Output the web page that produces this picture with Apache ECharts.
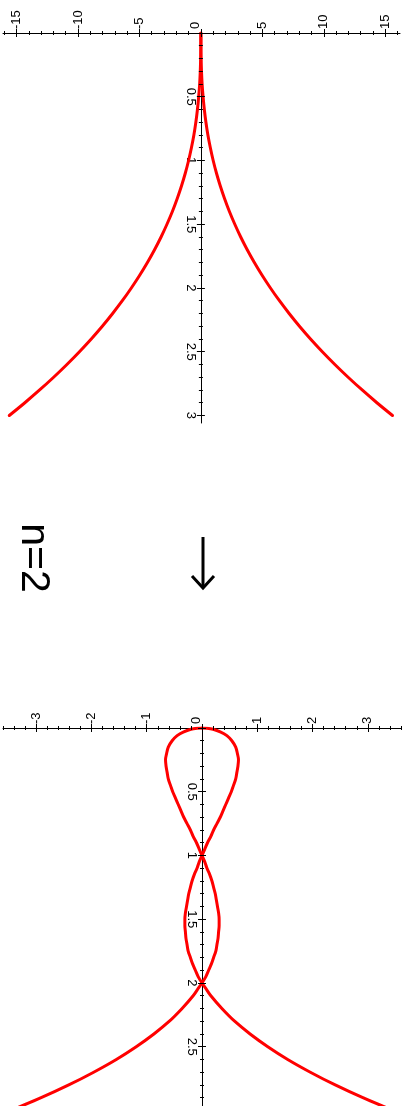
<!DOCTYPE html>
<html>
<head>
<meta charset="utf-8">
<script src="https://cdn.jsdelivr.net/npm/echarts@6/dist/echarts.min.js"></script>
<style>
  html, body { margin: 0; padding: 0; background: #fff; }
  #chart { width: 408px; height: 1106px; }
</style>
</head>
<body>
<div id="chart"></div>
<script>
// ---- Upper plot: cusp curve, parameter t (downwards) against x (across) ----
const cuspT = [0, 0.1, 0.2, 0.3, 0.4, 0.5, 0.6, 0.7, 0.8, 0.9, 1.0,
               1.1, 1.2, 1.3, 1.4, 1.5, 1.6, 1.7, 1.8, 1.9, 2.0,
               2.1, 2.2, 2.3, 2.4, 2.5, 2.6, 2.7, 2.8, 2.9, 3.0];
const cuspRightX = [0, 0, 0.02, 0.05, 0.1, 0.18, 0.28, 0.41, 0.57, 0.77, 1,
                    1.27, 1.58, 1.93, 2.32, 2.76, 3.24, 3.77, 4.35, 4.98, 5.66,
                    6.39, 7.18, 8.02, 8.92, 9.88, 10.9, 11.98, 13.12, 14.32, 15.59];
const cuspLeftX = [0, 0, -0.02, -0.05, -0.1, -0.18, -0.28, -0.41, -0.57, -0.77, -1,
                   -1.27, -1.58, -1.93, -2.32, -2.76, -3.24, -3.77, -4.35, -4.98, -5.66,
                   -6.39, -7.18, -8.02, -8.92, -9.88, -10.9, -11.98, -13.12, -14.32, -15.59];

// ---- Lower plot: looped curve crossing itself at t = 1 and t = 2 ----
const loopT = [0, 0.002, 0.01, 0.03, 0.06,
               0.1, 0.15, 0.2, 0.25, 0.3, 0.35, 0.4, 0.45, 0.5, 0.55,
               0.6, 0.65, 0.7, 0.75, 0.8, 0.85, 0.9, 0.95, 1.0,
               1.05, 1.1, 1.15, 1.2, 1.25, 1.3, 1.35, 1.4, 1.45, 1.5,
               1.55, 1.6, 1.65, 1.7, 1.75, 1.8, 1.85, 1.9, 1.95, 2.0,
               2.05, 2.1, 2.2, 2.3, 2.4, 2.5, 2.6, 2.7, 2.8, 2.9, 3.0];
const loopRightX = [0, 0.09, 0.2, 0.33, 0.45,
                    0.54, 0.61, 0.64, 0.66, 0.65, 0.63, 0.61, 0.57, 0.53, 0.48,
                    0.43, 0.38, 0.33, 0.27, 0.21, 0.16, 0.1, 0.05, 0,
                    -0.05, -0.09, -0.14, -0.18, -0.21, -0.24, -0.26, -0.28, -0.3, -0.31,
                    -0.31, -0.3, -0.29, -0.27, -0.25, -0.21, -0.17, -0.12, -0.07, 0,
                    0.08, 0.16, 0.36, 0.59, 0.87, 1.19, 1.55, 1.96, 2.41, 2.91, 3.46];
const loopLeftX = [0, -0.09, -0.2, -0.33, -0.45,
                   -0.54, -0.61, -0.64, -0.66, -0.65, -0.63, -0.61, -0.57, -0.53, -0.48,
                   -0.43, -0.38, -0.33, -0.27, -0.21, -0.16, -0.1, -0.05, 0,
                   0.05, 0.09, 0.14, 0.18, 0.21, 0.24, 0.26, 0.28, 0.3, 0.31,
                   0.31, 0.3, 0.29, 0.27, 0.25, 0.21, 0.17, 0.12, 0.07, 0,
                   -0.08, -0.16, -0.36, -0.59, -0.87, -1.19, -1.55, -1.96, -2.41, -2.91, -3.46];

// ---- Tick labels ----
const upperXLabels = [-15, -10, -5, 0, 5, 10, 15];
const upperTLabels = [0.5, 1, 1.5, 2, 2.5, 3];
const lowerXLabels = [-3, -2, -1, 0, 1, 2, 3];
const lowerTLabels = [0.5, 1, 1.5, 2, 2.5];
const caption = 'n=2';

// ---- Layout of the two panels ----
const FONT = '"Liberation Sans", Arial, Helvetica, sans-serif';
const CURVE_RED = '#ff0000';
const panels = [
  { left: 3, top: 33, width: 397, height: 390, xMin: -16.1, xMax: 16.2, tMax: 3.059,
    xMajor: upperXLabels, xMinorStep: 1, tMajor: [0].concat(upperTLabels), tMinorStep: 0.1,
    xLabels: upperXLabels, tLabels: upperTLabels },
  { left: 3, top: 728, width: 398, height: 378, xMin: -3.6, xMax: 3.6, tMax: 2.965,
    xMajor: lowerXLabels, xMinorStep: 0.2, tMajor: [0].concat(lowerTLabels), tMinorStep: 0.1,
    xLabels: lowerXLabels, tLabels: lowerTLabels }
];

function stepValues(from, to, step) {
  const out = [];
  const n0 = Math.ceil(from / step - 1e-9), n1 = Math.floor(to / step + 1e-9);
  for (let i = n0; i <= n1; i++) out.push(+(i * step).toFixed(4));
  return out;
}

const MAJOR_LEN = 8, MINOR_LEN = 4;
const xAxes = [], yAxes = [];

panels.forEach((p, gi) => {
  const zeroPx = (0 - p.xMin) / (p.xMax - p.xMin) * p.width;
  const labelStyle = { color: '#000', fontSize: 13, fontFamily: FONT };
  // main horizontal axis: line + labels (the "0" label sits just left of the vertical axis)
  xAxes.push({
    gridIndex: gi, type: 'value', min: p.xMin, max: p.xMax, position: 'top', z: 1,
    axisLine: { show: true, onZero: false, lineStyle: { color: '#000', width: 1 } },
    axisTick: { show: false }, splitLine: { show: false }, minorTick: { show: false },
    axisLabel: Object.assign({
      show: true, customValues: p.xLabels, rotate: -90, margin: 4,
      formatter: v => (v === 0 ? '{z|0}' : String(v)),
      rich: { z: Object.assign({ padding: [0, 0, 11, 0] }, labelStyle) }
    }, labelStyle)
  });
  // horizontal major / minor ticks crossing the axis line
  [[p.xMajor, MAJOR_LEN], [stepValues(p.xMin, p.xMax, p.xMinorStep), MINOR_LEN]].forEach(([vals, len]) => {
    xAxes.push({
      gridIndex: gi, type: 'value', min: p.xMin, max: p.xMax, position: 'top', offset: -len / 2, z: 3,
      axisLine: { show: false, onZero: false },
      axisTick: { show: true, customValues: vals, length: len, lineStyle: { color: '#000', width: 1 } },
      axisLabel: { show: false }, splitLine: { show: false }
    });
  });
  // main vertical axis through x = 0
  yAxes.push({
    gridIndex: gi, type: 'value', min: 0, max: p.tMax, inverse: true, position: 'left',
    offset: -zeroPx, z: 1,
    axisLine: { show: true, onZero: false, lineStyle: { color: '#000', width: 1 } },
    axisTick: { show: false }, splitLine: { show: false }, minorTick: { show: false },
    axisLabel: Object.assign({
      show: true, customValues: p.tLabels, rotate: -90, margin: 4,
      formatter: v => String(v)
    }, labelStyle)
  });
  [[p.tMajor, MAJOR_LEN], [stepValues(0, p.tMax, p.tMinorStep), MINOR_LEN]].forEach(([vals, len]) => {
    yAxes.push({
      gridIndex: gi, type: 'value', min: 0, max: p.tMax, inverse: true, position: 'left',
      offset: -(zeroPx + len / 2), z: 3,
      axisLine: { show: false, onZero: false },
      axisTick: { show: true, customValues: vals, length: len, lineStyle: { color: '#000', width: 1 } },
      axisLabel: { show: false }, splitLine: { show: false }
    });
  });
});

function curve(xs, ts, axisIdx) {
  return {
    type: 'line', xAxisIndex: axisIdx, yAxisIndex: axisIdx,
    data: ts.map((t, i) => [xs[i], t]),
    symbol: 'none', smooth: 0.35, z: 2, silent: true,
    lineStyle: { color: CURVE_RED, width: 3, cap: 'round', join: 'round' }
  };
}

const chart = echarts.init(document.getElementById('chart'), null, { renderer: 'canvas' });
chart.setOption({
  animation: false,
  backgroundColor: '#fff',
  grid: panels.map(p => ({
    left: p.left, top: p.top, width: p.width, height: p.height,
    containLabel: false, outerBoundsMode: 'none'
  })),
  xAxis: xAxes,
  yAxis: yAxes,
  series: [
    curve(cuspRightX, cuspT, 0),
    curve(cuspLeftX, cuspT, 0),
    curve(loopRightX, loopT, 3),
    curve(loopLeftX, loopT, 3)
  ],
  graphic: [
    { type: 'text', x: 33, y: 558, rotation: -Math.PI / 2,
      style: { text: caption, fontSize: 41, fontFamily: FONT, fill: '#000',
               align: 'center', verticalAlign: 'middle' } },
    { type: 'line', shape: { x1: 203, y1: 537, x2: 203, y2: 587 },
      style: { stroke: '#000', lineWidth: 3 } },
    { type: 'polyline', shape: { points: [[192, 576], [203, 588], [214, 576]] },
      style: { stroke: '#000', lineWidth: 3, fill: null, lineJoin: 'miter' } }
  ]
});
</script>
</body>
</html>
